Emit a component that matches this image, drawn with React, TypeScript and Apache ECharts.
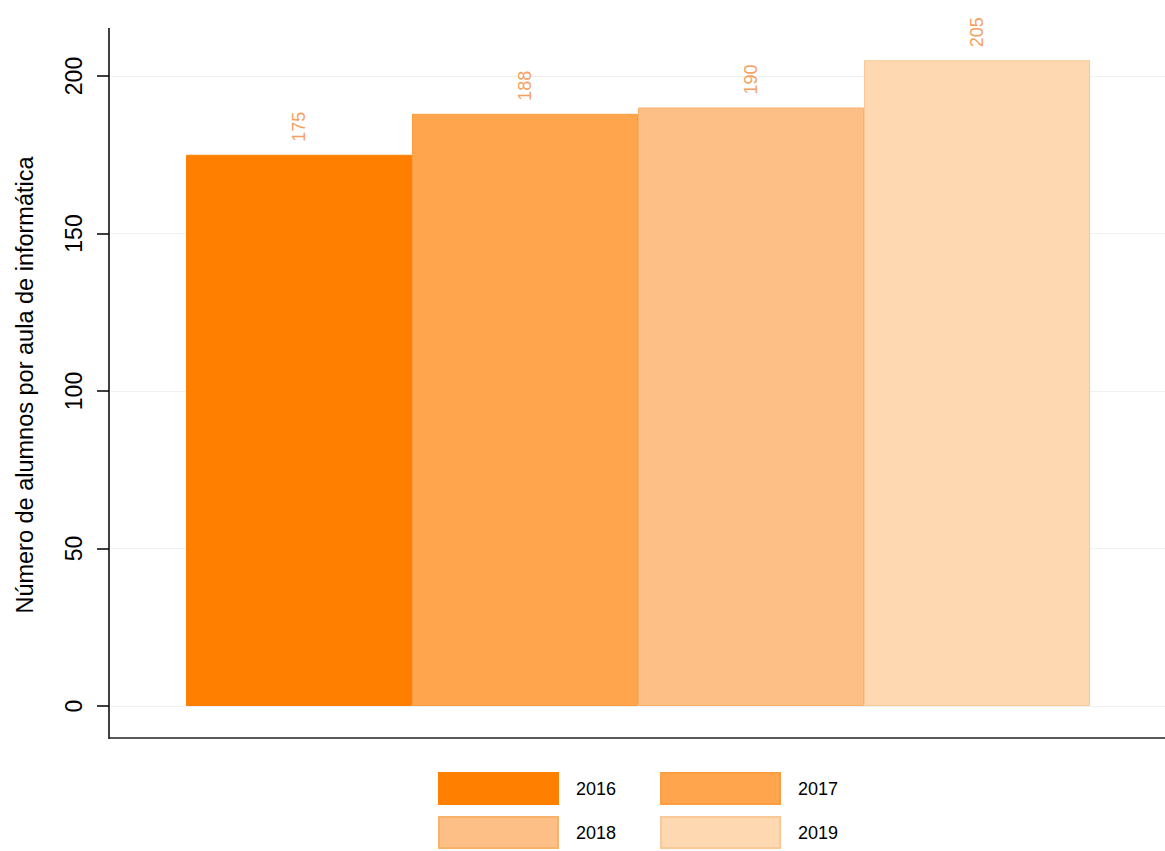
import React, { useEffect, useRef } from "react";
import * as echarts from "echarts";

const years = ["2016", "2017", "2018", "2019"];
const values = [175, 188, 190, 205];
const yTicks = [0, 50, 100, 150, 200];
const colors = ["#ff8000", "#fea54e", "#fdbf86", "#fdd8b0"];
const borders = ["#ff8000", "#fc9d40", "#f9b26c", "#f8c896"];

export default function App() {
  const ref = useRef<HTMLDivElement>(null);
  useEffect(() => {
    if (!ref.current) return;
    const chart = echarts.init(ref.current, undefined, { renderer: "svg" });
    const font = "'Liberation Sans', Arial, sans-serif";
    chart.setOption({
      animation: false,
      backgroundColor: "#ffffff",
      textStyle: { fontFamily: font },
      grid: { left: 111, right: 0, top: 76, bottom: 145 },
      xAxis: {
        type: "category",
        data: ["x"],
        axisLine: { show: false },
        axisTick: { show: false },
        axisLabel: { show: false },
      },
      yAxis: {
        type: "value",
        min: yTicks[0],
        max: yTicks[yTicks.length - 1],
        interval: 50,
        offset: 2,
        name: "Número de alumnos por aula de informática",
        nameLocation: "middle",
        nameGap: 72,
        nameTextStyle: { fontSize: 23.5, color: "#000", fontFamily: font, padding: [0, 0, 0, 12] },
        axisLine: { show: false },
        axisTick: { show: true, length: 12, lineStyle: { color: "#000", width: 1.5 } },
        axisLabel: { rotate: 90, margin: 24, fontSize: 23, color: "#000", fontFamily: font },
        splitLine: { show: true, lineStyle: { color: "#eef0f2", width: 1 } },
      },
      legend: [
        {
          data: [years[0], years[1]],
          left: 438,
          top: 772,
          padding: 0,
          itemWidth: 119,
          itemHeight: 31,
          itemGap: 44,
          icon: "rect",
          textStyle: { fontSize: 18, color: "#000", fontFamily: font, padding: [0, 0, 0, 13] },
        },
        {
          data: [years[2], years[3]],
          left: 438,
          top: 816,
          padding: 0,
          itemWidth: 119,
          itemHeight: 31,
          itemGap: 44,
          icon: "rect",
          textStyle: { fontSize: 18, color: "#000", fontFamily: font, padding: [0, 0, 0, 13] },
        },
      ],
      graphic: [
        { type: "line", shape: { x1: 109, y1: 28, x2: 109, y2: 739 }, style: { stroke: "#000", lineWidth: 1.5 } },
        { type: "line", shape: { x1: 109, y1: 738, x2: 1165, y2: 738 }, style: { stroke: "#222", lineWidth: 1.5 } },
      ],
      series: years.map((y, i) => ({
        name: y,
        type: "bar",
        data: [values[i]],
        barWidth: 226,
        barGap: "0%",
        clip: false,
        itemStyle: { color: colors[i], borderColor: borders[i], borderWidth: 1 },
        label: {
          show: true,
          position: "top",
          rotate: 90,
          distance: 13,
          align: "left",
          verticalAlign: "middle",
          fontSize: 18,
          color: "#f5a060",
          fontFamily: font,
        },
      })),
    });
    return () => chart.dispose();
  }, []);
  return <div ref={ref} style={{ position: "fixed", left: 0, top: 0, width: 1165, height: 851 }} />;
}
